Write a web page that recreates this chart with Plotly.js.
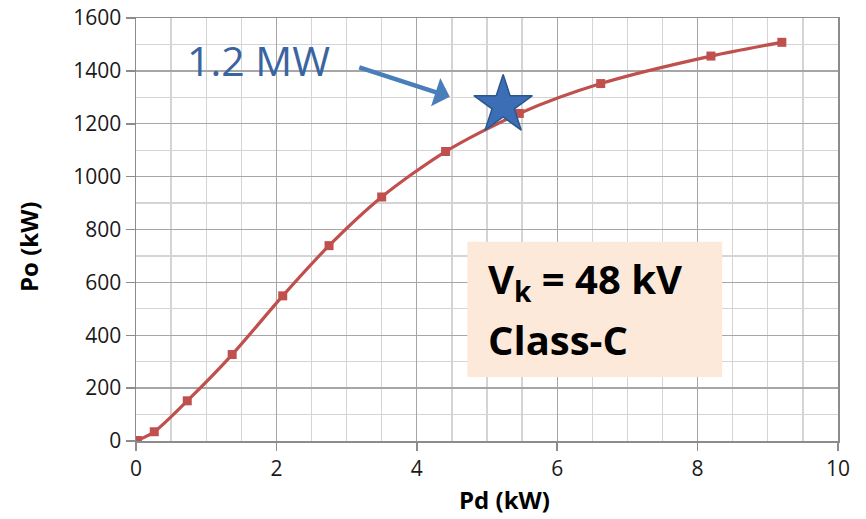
<!DOCTYPE html>
<html>
<head>
<meta charset="utf-8">
<script src="https://cdn.plot.ly/plotly-3.0.1.min.js"></script>
<style>
  html, body { margin: 0; padding: 0; background: #fff; }
  #chart { width: 866px; height: 519px; }
</style>
</head>
<body>
<div id="chart"></div>
<script>
// Output power vs. drive power for the class-C stage
const pdKW = [0.02, 0.26, 0.73, 1.37, 2.09, 2.75, 3.50, 4.41, 5.46, 6.62, 8.19, 9.20];
const poKW = [2, 35, 152, 327, 549, 739, 923, 1095, 1239, 1352, 1456, 1508];

// Highlighted operating point (1.2 MW)
const opPd = [5.23];
const opPo = [1270];

const xTicks = [0, 2, 4, 6, 8, 10];
const yTicks = [0, 200, 400, 600, 800, 1000, 1200, 1400, 1600];

const red = '#c0504d';
const blue = '#3b6eb5';
const font = 'Open Sans, sans-serif';
const tickFont = { family: font, size: 21, color: '#1a1a1a' };

const curve = {
  x: pdKW, y: poKW,
  type: 'scatter', mode: 'lines+markers',
  line: { color: red, width: 3.2, shape: 'spline', smoothing: 0.8 },
  marker: { symbol: 'square', size: 9, color: red },
  hoverinfo: 'x+y'
};

const star = {
  x: opPd, y: opPo,
  type: 'scatter', mode: 'markers',
  marker: { symbol: 'star', size: 44, color: blue, line: { color: '#2b578f', width: 1.5 } },
  hoverinfo: 'x+y'
};

const gridMajor = '#a6a6a6';
const gridMinor = '#d4d4d4';

const layout = {
  width: 866, height: 519,
  margin: { l: 136, r: 28, t: 18, b: 78 },
  paper_bgcolor: '#fff', plot_bgcolor: '#fff',
  showlegend: false,
  xaxis: {
    range: [0, 10], tickvals: xTicks, ticktext: xTicks.map(String),
    showgrid: true, gridcolor: gridMajor, gridwidth: 1.3,
    minor: { dtick: 0.5, showgrid: true, gridcolor: gridMinor, gridwidth: 1.3 },
    showline: true, linecolor: '#8c8c8c', linewidth: 1.5, mirror: true,
    ticks: 'outside', ticklen: 8, tickcolor: '#8c8c8c', tickwidth: 1.5,
    zeroline: false, tickfont: tickFont, fixedrange: true
  },
  yaxis: {
    range: [0, 1600], tickvals: yTicks, ticktext: yTicks.map(String),
    showgrid: true, gridcolor: gridMajor, gridwidth: 1.3,
    minor: { dtick: 100, showgrid: true, gridcolor: gridMinor, gridwidth: 1.3 },
    showline: true, linecolor: '#8c8c8c', linewidth: 1.5, mirror: true,
    ticks: 'outside', ticklen: 9, tickcolor: '#8c8c8c', tickwidth: 1.5,
    zeroline: false, tickfont: tickFont, fixedrange: true
  },
  shapes: [
    {
      type: 'rect', xref: 'x', yref: 'y', layer: 'above',
      x0: 4.72, x1: 8.35, y0: 242, y1: 754,
      fillcolor: '#fde9d9', line: { width: 0 }
    }
  ],
  annotations: [
    {
      xref: 'paper', yref: 'paper', x: 0.525, y: -0.138,
      xanchor: 'center', yanchor: 'middle', showarrow: false,
      text: '<b>Pd (kW)</b>',
      font: { family: font, size: 24, color: '#000' }
    },
    {
      xref: 'paper', yref: 'paper', x: -0.153, y: 0.46,
      xanchor: 'center', yanchor: 'middle', showarrow: false, textangle: -90,
      text: '<b>Po (kW)</b>',
      font: { family: font, size: 24, color: '#000' }
    },
    {
      xref: 'x', yref: 'y', x: 1.74, y: 1440,
      xanchor: 'center', yanchor: 'middle', showarrow: false,
      text: '1.2 MW',
      font: { family: font, size: 41, color: '#3a64a0' }
    },
    {
      xref: 'x', yref: 'y', x: 4.47, y: 1302,
      ax: -92, ay: -30, showarrow: true,
      arrowhead: 1, arrowsize: 1.1, arrowwidth: 4.5, arrowcolor: '#4a7ebb',
      text: ''
    },
    {
      xref: 'x', yref: 'y', x: 4.98, y: 608,
      xanchor: 'left', yanchor: 'middle', showarrow: false, align: 'left',
      text: '<b>V<sub>k</sub> = 48 kV</b>',
      font: { family: font, size: 40, color: '#000' }
    },
    {
      xref: 'x', yref: 'y', x: 4.98, y: 383,
      xanchor: 'left', yanchor: 'middle', showarrow: false, align: 'left',
      text: '<b>Class-C</b>',
      font: { family: font, size: 40, color: '#000' }
    }
  ]
};

Plotly.newPlot('chart', [curve, star], layout, { displayModeBar: false, staticPlot: true });
</script>
</body>
</html>
